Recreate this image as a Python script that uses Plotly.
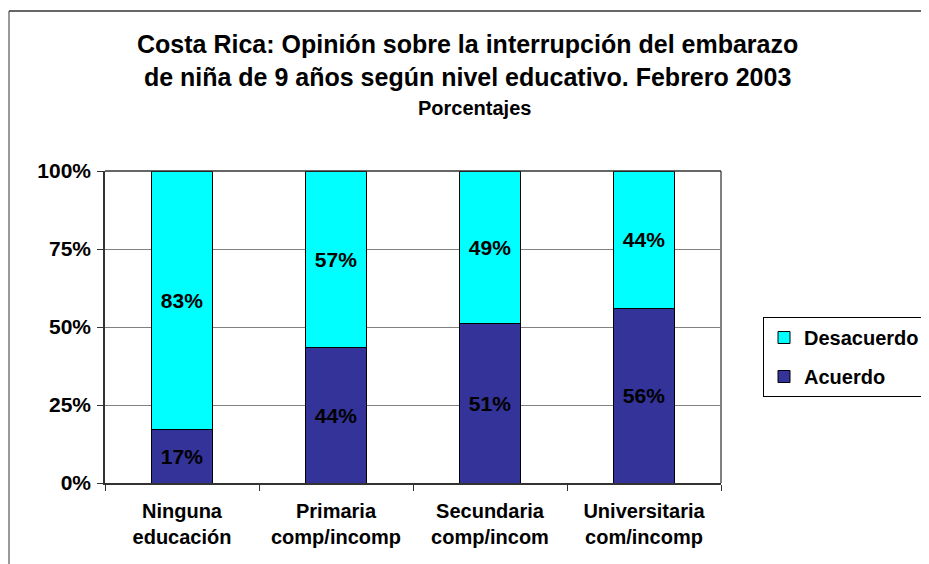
import plotly.graph_objects as go

categories = ["Ninguna<br>educación", "Primaria<br>comp/incomp", "Secundaria<br>comp/incom", "Universitaria<br>com/incomp"]
acuerdo = [17, 44, 51, 56]
desacuerdo = [83, 57, 49, 44]
y_ticks = [0, 25, 50, 75, 100]
y_tick_labels = ["0%", "25%", "50%", "75%", "100%"]

FONT = "Arial, 'Liberation Sans', sans-serif"

# page body adds an 8px margin, so the figure is offset by 8px
OFF = 8
W, H = 929 - OFF, 564 - OFF
L, T = 105 - OFF, 171 - OFF
R = W - (721 - OFF)
B = H - (483 - OFF)
pw, ph = W - L - R, H - T - B

def px_x(x):
    return (x - OFF - L) / pw

def px_y(y):
    return (H - B - (y - OFF)) / ph

fig = go.Figure()
fig.add_trace(go.Bar(
    x=categories, y=acuerdo, name="Acuerdo", legendgroup="a", legendrank=2,
    marker=dict(color="#333399", line=dict(color="#000000", width=1)),
    text=[f"{v}%" for v in acuerdo], textposition="inside", insidetextanchor="middle",
    textangle=0, constraintext="none",
    textfont=dict(family=FONT, size=21, color="black", weight="bold"),
    width=0.4,
))
fig.add_trace(go.Bar(
    x=categories, y=desacuerdo, name="Desacuerdo", legendgroup="d", legendrank=1,
    marker=dict(color="#00FFFF", line=dict(color="#000000", width=1)),
    text=[f"{v}%" for v in desacuerdo], textposition="inside", insidetextanchor="middle",
    textangle=0, constraintext="none",
    textfont=dict(family=FONT, size=21, color="black", weight="bold"),
    width=0.4,
))

fig.update_layout(
    width=W, height=H,
    barmode="stack", barnorm="percent",
    margin=dict(l=L, r=R, t=T, b=B, autoexpand=False),
    paper_bgcolor="white", plot_bgcolor="white",
    font=dict(family=FONT, color="black"),
    legend=dict(
        x=px_x(763), xanchor="left", y=px_y(357), yanchor="middle",
        traceorder="grouped", tracegroupgap=10,
        bordercolor="#000000", borderwidth=1, bgcolor="white",
        font=dict(family=FONT, size=20, color="black", weight="bold"),
    ),
    xaxis=dict(
        showline=True, linecolor="#333333", linewidth=1.5,
        ticks="outside", tickson="boundaries", ticklen=6, tickcolor="#333333",
        tickfont=dict(family=FONT, size=20, color="black", weight="bold"),
        ticklabelstandoff=9,
        showgrid=False,
    ),
    yaxis=dict(
        range=[0, 100], tickvals=y_ticks, ticktext=y_tick_labels,
        showline=True, linecolor="#333333", linewidth=1.5,
        ticks="outside", ticklen=6, tickcolor="#333333",
        tickfont=dict(family=FONT, size=21, color="black", weight="bold"),
        ticklabelstandoff=2,
        showgrid=True, gridcolor="#808080", gridwidth=1,
        zeroline=False,
    ),
    shapes=[
        dict(type="line", xref="paper", yref="paper", x0=1, x1=1, y0=0, y1=1,
             line=dict(color="#808080", width=2)),
        dict(type="line", xref="paper", yref="paper", x0=0, x1=1, y0=1, y1=1,
             line=dict(color="#333333", width=1.5)),
        # outer chart border (left and top edges visible)
        dict(type="line", xref="paper", yref="paper",
             x0=px_x(9), x1=px_x(9), y0=px_y(11), y1=px_y(600),
             line=dict(color="#777777", width=1.5)),
        dict(type="line", xref="paper", yref="paper",
             x0=px_x(9), x1=px_x(960), y0=px_y(11), y1=px_y(11),
             line=dict(color="#333333", width=1.5)),
    ],
    annotations=[
        dict(text="Costa Rica: Opinión sobre la interrupción del embarazo<br>de niña de 9 años según nivel educativo. Febrero 2003",
             xref="paper", yref="paper", x=px_x(467), y=px_y(61), xanchor="center", yanchor="middle",
             showarrow=False, align="center",
             font=dict(family=FONT, size=25, color="black", weight="bold")),
        dict(text="Porcentajes",
             xref="paper", yref="paper", x=px_x(474), y=px_y(108), xanchor="center", yanchor="middle",
             showarrow=False,
             font=dict(family=FONT, size=20, color="black", weight="bold")),
    ],
)

fig.write_html("out.html")
